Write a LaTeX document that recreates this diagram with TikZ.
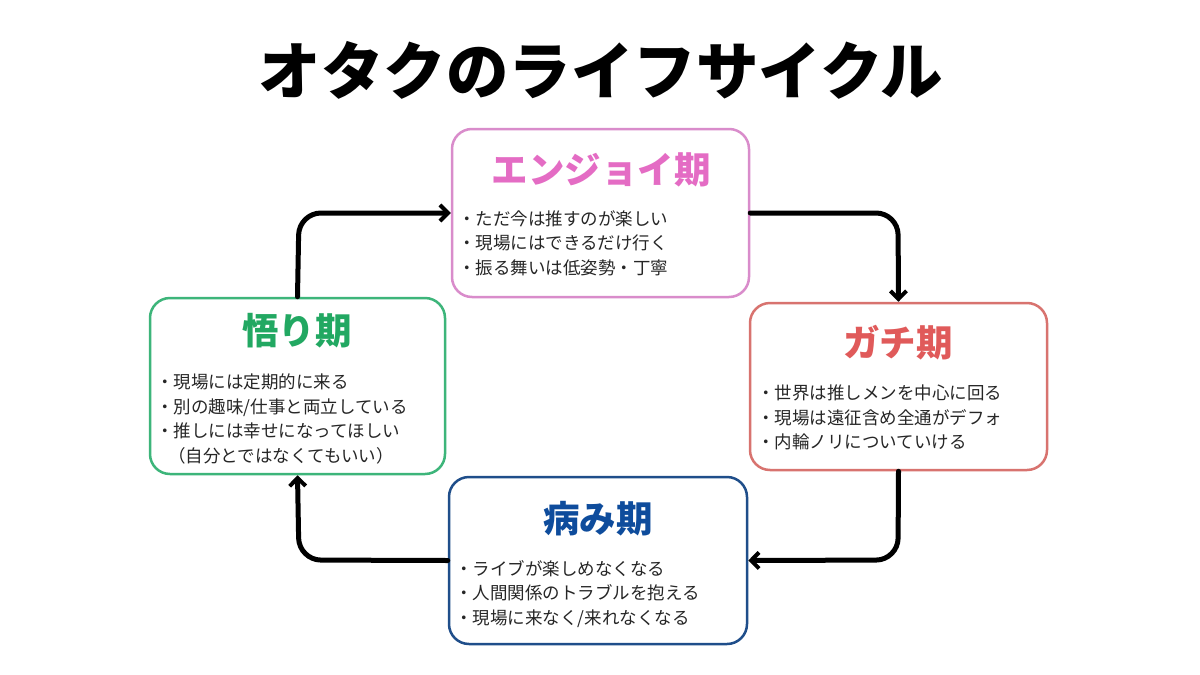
\documentclass[tikz,border=0pt]{standalone}
\usepackage{fontspec}
\setmainfont{Noto Sans CJK JP}
\usetikzlibrary{arrows.meta}
\definecolor{pinkT}{HTML}{E46CC4}
\definecolor{pinkB}{HTML}{D98CCB}
\definecolor{redT}{HTML}{E05A5A}
\definecolor{redB}{HTML}{D8736F}
\definecolor{blueT}{HTML}{0E4C9C}
\definecolor{blueB}{HTML}{1F4E8A}
\definecolor{greenT}{HTML}{22A862}
\definecolor{greenB}{HTML}{3DB57A}
\tikzset{
  phase/.style={draw=#1, line width=2.5pt, rounded corners=20pt, fill=white, inner sep=0pt},
  phtitle/.style={text=#1, font=\fontsize{36.5}{40}\selectfont\bfseries, anchor=center, inner sep=0pt},
  items/.style={font=\fontsize{17.5}{24.5}\selectfont, anchor=north west, align=left, inner sep=0pt, text=black!85},
  flow/.style={line width=5pt, rounded corners=22pt, -{Straight Barb[length=8pt,width=16pt,line width=4pt]}, line cap=round}
}
\begin{document}
\begin{tikzpicture}[x=1pt,y=-1pt]
\useasboundingbox (0,0) rectangle (1200,675);
\fill[white] (0,0) rectangle (1200,675);
\node[font=\fontsize{62.5}{68}\selectfont\bfseries, inner sep=0pt] (title) at (601,70) {オタクのライフサイクル};

\node[phase=pinkB, minimum width=297pt, minimum height=168pt] (enjoy) at (600.5,213) {};
\node[phase=redB, minimum width=297pt, minimum height=167pt] (gachi) at (898.5,386.5) {};
\node[phase=blueB, minimum width=298pt, minimum height=167pt] (yami) at (598,560.5) {};
\node[phase=greenB, minimum width=295pt, minimum height=176pt] (satori) at (297.5,386) {};

\node[phtitle=pinkT] (enjoyT) at (601,170) {エンジョイ期};
\node[phtitle=redT] (gachiT) at (898,343) {ガチ期};
\node[phtitle=blueT] (yamiT) at (598,519) {病み期};
\node[phtitle=greenT] (satoriT) at (297,331) {悟り期};

\node[items] (enjoyL) at (458,210) {・ただ今は推すのが楽しい\\・現場にはできるだけ行く\\・振る舞いは低姿勢・丁寧};
\node[items] (gachiL) at (757,385) {・世界は推しメンを中心に回る\\・現場は遠征含め全通がデフォ\\・内輪ノリについていける};
\node[items] (yamiL) at (455,560) {・ライブが楽しめなくなる\\・人間関係のトラブルを抱える\\・現場に来なく/来れなくなる};
\node[items] (satoriL) at (156,374) {・現場には定期的に来る\\・別の趣味/仕事と両立している\\・推しには幸せになってほしい\\\hspace*{0.7em}（自分とではなくてもいい）};

\coordinate (c1) at (898,213);
\coordinate (c2) at (898,560);
\coordinate (c3) at (299,560);
\coordinate (c4) at (299,213);
\draw[flow] (enjoy.east) -- (c1) -- (gachi.north);
\draw[flow] (gachi.south) -- (c2) -- (yami.east);
\draw[flow] (yami.west) -- (c3) -- (satori.south);
\draw[flow] (satori.north) -- (c4) -- (enjoy.west);
\end{tikzpicture}
\end{document}
